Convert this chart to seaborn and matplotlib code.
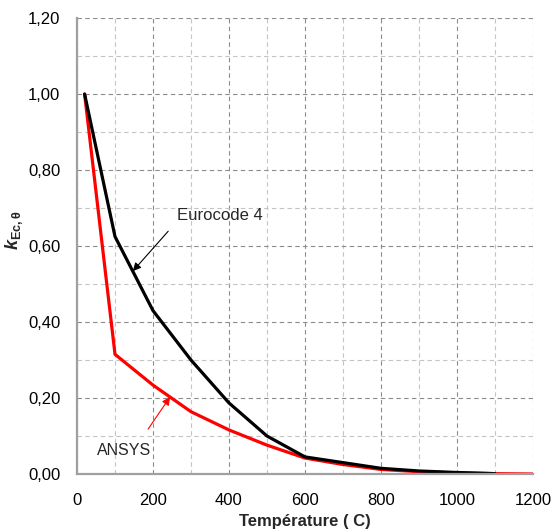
import numpy as np
import pandas as pd
import matplotlib
matplotlib.use('Agg')
import matplotlib.pyplot as plt
import seaborn as sns
from matplotlib.ticker import MultipleLocator, FuncFormatter

sns.set_style('white')
plt.rcParams['font.family'] = ['Liberation Sans', 'DejaVu Sans']
plt.rcParams['mathtext.fontset'] = 'custom'
plt.rcParams['mathtext.rm'] = 'Liberation Sans'
plt.rcParams['mathtext.it'] = 'Liberation Sans:italic'
plt.rcParams['mathtext.bf'] = 'Liberation Sans:bold'
plt.rcParams['mathtext.bfit'] = 'Liberation Sans:bold:italic'

# values
temp_ec4 = [20, 100, 200, 300, 400, 500, 600, 700, 800, 900, 1000, 1100]
k_ec4 = [1.00, 0.625, 0.43, 0.30, 0.187, 0.10, 0.045, 0.03, 0.015, 0.008, 0.004, 0.001]
temp_ansys = [20, 100, 200, 300, 400, 500, 600, 700, 800, 900, 1000, 1100, 1200]
k_ansys = [1.00, 0.315, 0.234, 0.164, 0.116, 0.076, 0.042, 0.025, 0.012, 0.006, 0.003, 0.001, 0.0]

df = pd.concat([
    pd.DataFrame({'T': temp_ec4, 'k': k_ec4, 'serie': 'Eurocode 4'}),
    pd.DataFrame({'T': temp_ansys, 'k': k_ansys, 'serie': 'ANSYS'}),
])

fig = plt.figure(figsize=(5.52, 5.32), dpi=100)
ax = fig.add_axes([0.1395, 0.109, 0.826, 0.857])

sns.lineplot(data=df, x='T', y='k', hue='serie', hue_order=['ANSYS', 'Eurocode 4'],
             palette={'ANSYS': '#FF0000', 'Eurocode 4': '#000000'},
             linewidth=2.3, legend=False, sort=False, ax=ax)

ax.set_xlim(0, 1200)
ax.set_ylim(0, 1.2)
ax.xaxis.set_major_locator(MultipleLocator(200))
ax.xaxis.set_minor_locator(MultipleLocator(100))
ax.yaxis.set_major_locator(MultipleLocator(0.2))
ax.yaxis.set_minor_locator(MultipleLocator(0.1))
ax.yaxis.set_major_formatter(FuncFormatter(lambda v, p: f'{v:.2f}'.replace('.', ',')))

ax.grid(which='major', color='#8C8C8C', linestyle=(0, (4, 3)), linewidth=0.8)
ax.grid(which='minor', color='#C4C4C4', linestyle=(0, (4, 3)), linewidth=0.8)
ax.set_axisbelow(True)

for s in ['top', 'right']:
    ax.spines[s].set_visible(False)
for s in ['left', 'bottom']:
    ax.spines[s].set_color('#A0A0A0')
    ax.spines[s].set_linewidth(1.6)

ax.tick_params(which='major', direction='out', length=5, width=1.2, color='#A0A0A0',
               labelsize=12, labelcolor='#000000')
ax.tick_params(axis='x', which='major', pad=9)
ax.tick_params(axis='y', which='major', pad=7)
ax.tick_params(which='minor', length=0)

ax.set_xlabel('Température ( C)', fontsize=12, fontweight='bold', labelpad=4)
ax.set_ylabel(r'$\mathbfit{k}_{\mathbf{Ec,\theta}}$', fontsize=13)
ax.yaxis.set_label_coords(-0.113, 0.535)

ax.annotate('', xy=(147, 0.534), xytext=(240, 0.639),
            arrowprops=dict(arrowstyle='-|>', color='black', lw=0.8,
                            shrinkA=0, shrinkB=0, mutation_scale=12))
ax.text(262, 0.68, 'Eurocode 4', fontsize=12, va='center', ha='left')
ax.annotate('', xy=(245, 0.203), xytext=(187, 0.118),
            arrowprops=dict(arrowstyle='-|>', color='red', lw=0.8,
                            shrinkA=0, shrinkB=0, mutation_scale=12))
ax.text(53, 0.063, 'ANSYS', fontsize=11.5, va='center', ha='left')

fig.savefig('out.png', dpi=100)
